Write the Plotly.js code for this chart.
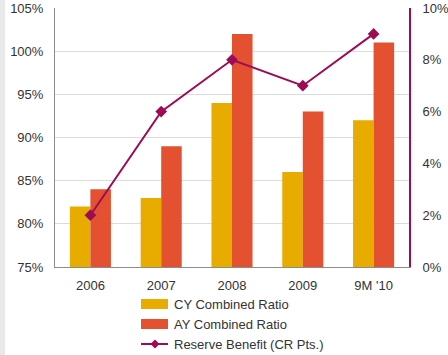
<!DOCTYPE html>
<html>
<head>
<meta charset="utf-8">
<script src="https://cdn.plot.ly/plotly-3.0.1.min.js"></script>
<style>
  html, body { margin: 0; padding: 0; background: #ffffff; }
  #wrap { position: relative; width: 448px; height: 355px; overflow: hidden; }
  #edge { position: absolute; left: 0; top: 0; width: 5px; height: 355px; background: #e9e9e9; }
  #chart { position: absolute; left: 0; top: 0; width: 448px; height: 355px; }
</style>
</head>
<body>
<div id="wrap">
  <div id="edge"></div>
  <div id="chart"></div>
</div>
<script>
// Periods on the category axis
const periods = ['2006', '2007', '2008', '2009', "9M '10"];

// Combined ratios (%), left axis
const cyCombinedRatio = [82, 83, 94, 86, 92];
const ayCombinedRatio = [84, 89, 102, 93, 101];

// Reserve benefit in combined-ratio points (%), right axis
const reserveBenefit = [2, 6, 8, 7, 9];

// Series names
const seriesNames = ['CY Combined Ratio', 'AY Combined Ratio', 'Reserve Benefit (CR Pts.)'];

const COLOR_CY = '#E8AB00';
const COLOR_AY = '#E45130';
const COLOR_RB = '#9C0C55';
const FONT = 'Liberation Sans, Arial, sans-serif';
const TEXT = '#333333';

const traces = [
  {
    type: 'bar', name: seriesNames[0], x: periods, y: cyCombinedRatio,
    marker: { color: COLOR_CY }, yaxis: 'y', showlegend: false, hoverinfo: 'y'
  },
  {
    type: 'bar', name: seriesNames[1], x: periods, y: ayCombinedRatio,
    marker: { color: COLOR_AY }, yaxis: 'y', showlegend: false, hoverinfo: 'y'
  },
  {
    type: 'scatter', mode: 'lines+markers', name: seriesNames[2], x: periods, y: reserveBenefit,
    yaxis: 'y2', line: { color: COLOR_RB, width: 2 },
    marker: { symbol: 'diamond', size: 9, color: COLOR_RB }, showlegend: false
  }
];

// Plot-area geometry in pixels, used to place the hand-built legend
const M = { l: 55, r: 39, t: 8, b: 88 };
const W = 448, H = 355;
const PW = W - M.l - M.r, PH = H - M.t - M.b;
const px = x => (x - M.l) / PW;
const py = y => (H - M.b - y) / PH;

const legendRows = [304, 324, 344];
const swX0 = 141, swX1 = 168, textX = 172;

const shapes = [
  { type: 'rect', xref: 'paper', yref: 'paper', x0: px(swX0), x1: px(swX1),
    y0: py(legendRows[0] + 5), y1: py(legendRows[0] - 5), fillcolor: COLOR_CY, line: { width: 0 } },
  { type: 'rect', xref: 'paper', yref: 'paper', x0: px(swX0), x1: px(swX1),
    y0: py(legendRows[1] + 5), y1: py(legendRows[1] - 5), fillcolor: COLOR_AY, line: { width: 0 } },
  { type: 'line', xref: 'paper', yref: 'paper', x0: px(swX0), x1: px(swX1),
    y0: py(legendRows[2]), y1: py(legendRows[2]), line: { color: COLOR_RB, width: 2 } },
  { type: 'path', xref: 'paper', yref: 'paper',
    path: 'M ' + px(155) + ' ' + py(legendRows[2] - 4.5) +
          ' L ' + px(159.5) + ' ' + py(legendRows[2]) +
          ' L ' + px(155) + ' ' + py(legendRows[2] + 4.5) +
          ' L ' + px(150.5) + ' ' + py(legendRows[2]) + ' Z',
    fillcolor: COLOR_RB, line: { width: 0 } }
];

const annotations = seriesNames.map((name, i) => ({
  xref: 'paper', yref: 'paper', x: px(textX), y: py(legendRows[i]),
  xanchor: 'left', yanchor: 'middle', text: name, showarrow: false,
  font: { family: FONT, size: 13, color: TEXT }
}));

const layout = {
  width: W, height: H,
  margin: M,
  paper_bgcolor: 'rgba(0,0,0,0)',
  plot_bgcolor: '#ffffff',
  font: { family: FONT, size: 13, color: TEXT },
  barmode: 'group',
  bargap: 0.42,
  bargroupgap: 0,
  showlegend: false,
  xaxis: {
    type: 'category',
    showline: true, linecolor: '#8c8c8c', linewidth: 1,
    showgrid: false, zeroline: false,
    ticks: 'outside', ticklen: 6, tickcolor: 'rgba(0,0,0,0)',
    tickfont: { family: FONT, size: 13, color: TEXT }
  },
  yaxis: {
    range: [75, 105], dtick: 5, ticksuffix: '%',
    showline: true, linecolor: '#8c8c8c', linewidth: 1,
    showgrid: true, gridcolor: '#dcdcdc', gridwidth: 1,
    zeroline: false,
    ticks: 'outside', ticklen: 8, tickcolor: 'rgba(0,0,0,0)',
    tickfont: { family: FONT, size: 13, color: TEXT }
  },
  yaxis2: {
    overlaying: 'y', side: 'right',
    range: [0, 10], dtick: 2, ticksuffix: '%',
    showline: true, linecolor: COLOR_RB, linewidth: 2,
    showgrid: false, zeroline: false,
    ticks: 'outside', ticklen: 9, tickcolor: 'rgba(0,0,0,0)',
    tickfont: { family: FONT, size: 13, color: TEXT }
  },
  shapes: shapes,
  annotations: annotations
};

Plotly.newPlot('chart', traces, layout, { displayModeBar: false, staticPlot: true });
</script>
</body>
</html>
